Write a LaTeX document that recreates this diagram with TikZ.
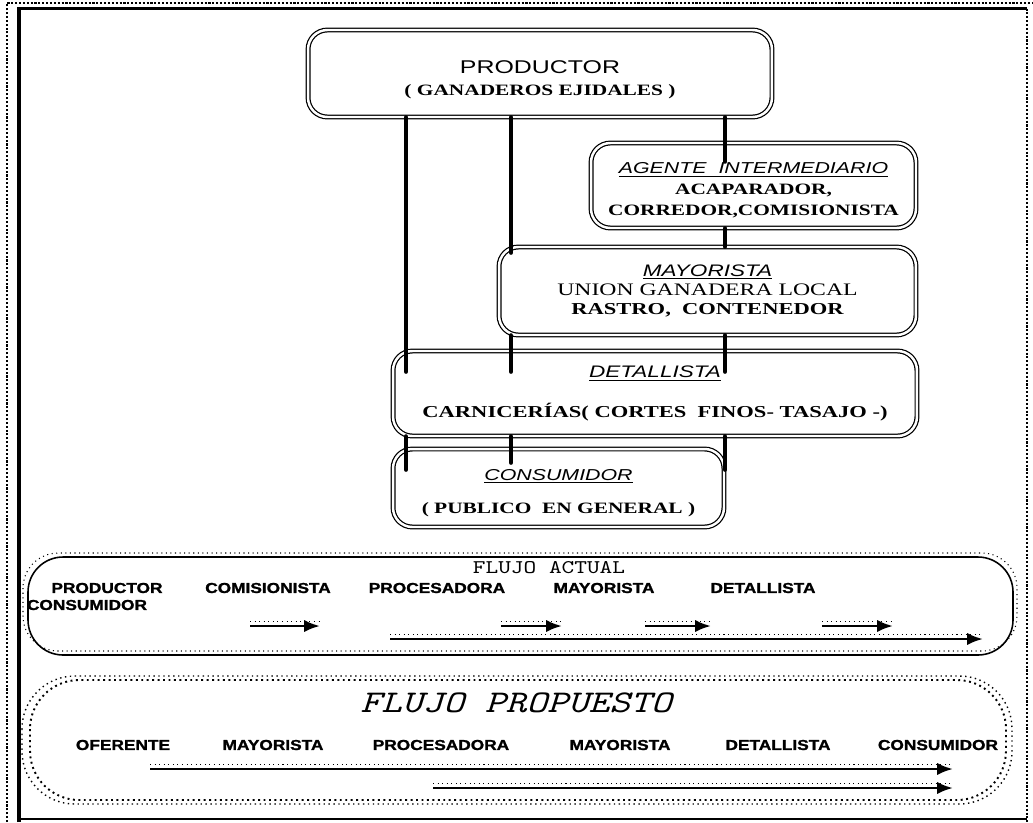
\documentclass[tikz,border=0pt]{standalone}
\usepackage{fontspec}
\setmainfont[FakeStretch=1.35]{Liberation Serif}
\setsansfont[FakeStretch=1.35]{Liberation Sans}
\newfontfamily\flujofont[FakeStretch=1.25, ItalicFont=lmmono10-italic.otf]{lmmono10-regular.otf}
\newfontfamily\negra[FakeStretch=1.2, FakeBold=1.4]{Liberation Sans}
\usepackage{tikz}
\usetikzlibrary{arrows.meta}
\usetikzlibrary{positioning}

\newcommand{\titulo}[1]{{\sffamily\itshape\underline{#1}}}

\tikzset{
  caja/.style={draw, rounded corners=11pt, line width=0.7pt, double, double distance=1.4pt,
    align=center, inner sep=0pt},
  barra/.style={line width=2.8pt, line cap=round},
  etiqueta/.style={font=\negra\bfseries\fontsize{8.2}{9.6}\selectfont, inner sep=0pt},
  flecha/.style={line width=1.6pt, arrows = {-Latex[width=7pt, length=9pt]},
    preaction={draw, arrows=-, dotted, line width=0.6pt, transform canvas={yshift=2.5pt}}},
}

\begin{document}
\begin{tikzpicture}[x=0.02cm, y=-0.02cm]
\useasboundingbox (0,0) rectangle (1033,822);
% marco
\draw[densely dotted, line width=1.2pt] (7,822) -- (7,3) -- (1033,3);
\draw[line width=1.8pt] (19,822) -- (19,8.5) -- (1027,8.5);
\draw[densely dotted, line width=1.2pt] (1027,8.5) -- (1027,822);
\draw[line width=0.6pt] (19,819) -- (1027,819);

% canal de comercializacion
\node[caja, minimum width=9.28cm, minimum height=1.74cm, font=\fontsize{9}{12.5}\selectfont] (prod) at (540,73.5)
  {\rule{0pt}{14pt}{\sffamily\fontsize{10.5}{12.5}\selectfont PRODUCTOR}\\\bfseries ( GANADEROS EJIDALES )};
\node[caja, minimum width=6.5cm, minimum height=1.7cm, font=\fontsize{9}{12}\selectfont] (agente) at (753.5,185.5)
  {\rule{0pt}{12pt}\titulo{AGENTE\ \ INTERMEDIARIO}\\\bfseries ACAPARADOR,\\\bfseries CORREDOR,COMISIONISTA};
\node[caja, minimum width=8.34cm, minimum height=1.76cm, font=\fontsize{9.5}{11}\selectfont] (mayor) at (707.5,291)
  {\titulo{MAYORISTA}\\{\fontsize{10}{11}\selectfont UNION GANADERA LOCAL}\\\bfseries RASTRO,\ \ CONTENEDOR};
\node[caja, minimum width=10.48cm, minimum height=1.7cm, font=\fontsize{9.5}{12}\selectfont] (detal) at (655,393.5)
  {\titulo{DETALLISTA}\\[11pt]\bfseries CARNICERÍAS( CORTES\ \ FINOS- TASAJO -)};
\node[caja, minimum width=6.62cm, minimum height=1.56cm, font=\fontsize{9}{12}\selectfont] (cons) at (558.5,488)
  {\rule{0pt}{12pt}\titulo{CONSUMIDOR}\\[7pt]\bfseries ( PUBLICO\ \ EN GENERAL )};

\coordinate (xA) at (406,0);
\coordinate (xB) at (511,0);
\coordinate (xC) at (725,0);
\draw[barra] (prod.south -| xA) -- ([yshift=-0.42cm]detal.north -| xA);
\draw[barra] (detal.south -| xA) -- ([yshift=-0.42cm]cons.north -| xA);
\draw[barra] (prod.south -| xB) -- ([yshift=-0.12cm]mayor.north -| xB);
\draw[barra] (mayor.south -| xB) -- ([yshift=-0.42cm]detal.north -| xB);
\draw[barra] (detal.south -| xB) -- ([yshift=-0.28cm]cons.north -| xB);
\draw[barra] (prod.south -| xC) -- ([yshift=-0.38cm]agente.north -| xC);
\draw[barra] (agente.south -| xC) -- (mayor.north -| xC);
\draw[barra] (mayor.south -| xC) -- ([yshift=-0.42cm]detal.north -| xC);
\draw[barra] (detal.south -| xC) -- ([yshift=-0.42cm]cons.north -| xC);

% flujo actual
\draw[dotted, line width=0.6pt, rounded corners=20pt] (23,553) rectangle (1017,651);
\draw[line width=0.9pt, rounded corners=20pt] (28,557) rectangle (1013,655);
\node[font=\flujofont\fontsize{11}{13}\selectfont] (tact) at (549,568) {FLUJO ACTUAL};
\node[etiqueta] (fa1) at (107,588) {PRODUCTOR};
\node[etiqueta] (fa2) at (268,588) {COMISIONISTA};
\node[etiqueta] (fa3) at (437,588) {PROCESADORA};
\node[etiqueta] (fa4) at (604,588) {MAYORISTA};
\node[etiqueta] (fa5) at (763,588) {DETALLISTA};
\node[etiqueta] (fa6) at (87,605) {CONSUMIDOR};
\coordinate (a1i) at (250,626); \coordinate (a1f) at (320,626);
\coordinate (a2i) at (501,626); \coordinate (a2f) at (562,626);
\coordinate (a3i) at (645,626); \coordinate (a3f) at (711,626);
\coordinate (a4i) at (822,626); \coordinate (a4f) at (893,626);
\coordinate (a5i) at (390,639); \coordinate (a5f) at (983,639);
\draw[flecha] (a1i) -- (a1f);
\draw[flecha] (a2i) -- (a2f);
\draw[flecha] (a3i) -- (a3f);
\draw[flecha] (a4i) -- (a4f);
\draw[flecha] (a5i) -- (a5f);

% flujo propuesto
\draw[dotted, line width=0.8pt, rounded corners=30pt] (22,676) rectangle (1012,804);
\draw[dotted, line width=1.1pt, rounded corners=28pt] (30,680) rectangle (1006,800);
\node[font=\flujofont\itshape\fontsize{18}{20}\selectfont] (tprop) at (516,703) {FLUJO PROPUESTO};
\node[etiqueta] (fp1) at (123,745) {OFERENTE};
\node[etiqueta] (fp2) at (273,745) {MAYORISTA};
\node[etiqueta] (fp3) at (441,745) {PROCESADORA};
\node[etiqueta] (fp4) at (620,745) {MAYORISTA};
\node[etiqueta] (fp5) at (778,745) {DETALLISTA};
\node[etiqueta] (fp6) at (938,745) {CONSUMIDOR};
\coordinate (p1i) at (150,769); \coordinate (p1f) at (953,769);
\coordinate (p2i) at (433,788); \coordinate (p2f) at (953,788);
\draw[flecha] (p1i) -- (p1f);
\draw[flecha] (p2i) -- (p2f);
\end{tikzpicture}
\end{document}
